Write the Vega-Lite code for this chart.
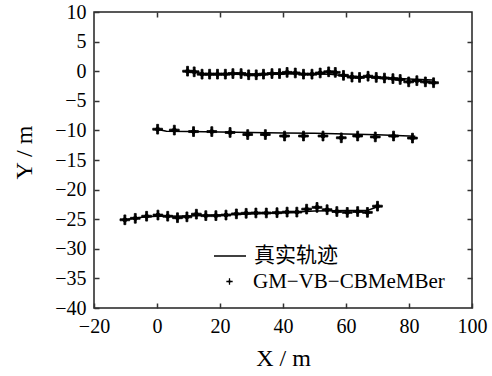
{
  "$schema": "https://vega.github.io/schema/vega-lite/v6.json",
  "width": 378,
  "height": 296,
  "autosize": "none",
  "padding": {"left": 94, "top": 12, "right": 20, "bottom": 68},
  "background": "white",
  "config": {
    "font": "Liberation Serif",
    "view": {"stroke": "#222", "strokeWidth": 1.5},
    "axis": {
      "grid": false,
      "domain": false,
      "tickColor": "#333",
      "tickWidth": 1.5,
      "tickSize": -5,
      "labelFlush": false,
      "labelFont": "Liberation Serif",
      "labelFontSize": 20,
      "labelColor": "black",
      "titleFont": "Liberation Serif",
      "titleFontSize": 24,
      "titleFontWeight": "normal",
      "titleColor": "black"
    },
    "legend": {
      "labelFont": "Liberation Serif, Noto Sans CJK SC",
      "labelFontSize": 21,
      "labelColor": "black",
      "labelLimit": 0,
      "padding": 0,
      "titlePadding": 0
    }
  },
  "datasets": {
    "truth": [
      {"track": "A", "x": 10, "y": 0.0},
      {"track": "A", "x": 12, "y": -0.2},
      {"track": "A", "x": 15, "y": -0.45},
      {"track": "A", "x": 30, "y": -0.55},
      {"track": "A", "x": 45, "y": -0.45},
      {"track": "A", "x": 55, "y": -0.5},
      {"track": "A", "x": 60, "y": -0.8},
      {"track": "A", "x": 70, "y": -1.05},
      {"track": "A", "x": 80, "y": -1.3},
      {"track": "A", "x": 87.5, "y": -1.5},
      {"track": "B", "x": 0, "y": -9.8},
      {"track": "B", "x": 3, "y": -10.15},
      {"track": "B", "x": 10, "y": -10.2},
      {"track": "B", "x": 20, "y": -10.25},
      {"track": "B", "x": 30, "y": -10.35},
      {"track": "B", "x": 40, "y": -10.45},
      {"track": "B", "x": 50, "y": -10.5},
      {"track": "B", "x": 60, "y": -10.6},
      {"track": "B", "x": 70, "y": -10.75},
      {"track": "B", "x": 82, "y": -11.0},
      {"track": "C", "x": -10, "y": -25.1},
      {"track": "C", "x": -7, "y": -24.8},
      {"track": "C", "x": -3, "y": -24.6},
      {"track": "C", "x": 0, "y": -24.5},
      {"track": "C", "x": 10, "y": -24.45},
      {"track": "C", "x": 20, "y": -24.3},
      {"track": "C", "x": 30, "y": -24.1},
      {"track": "C", "x": 40, "y": -23.9},
      {"track": "C", "x": 50, "y": -23.6},
      {"track": "C", "x": 60, "y": -23.55},
      {"track": "C", "x": 67, "y": -23.5},
      {"track": "C", "x": 70, "y": -22.9}
    ],
    "estimates": [
      {"track": "A", "x": 9.7, "y": 0.0},
      {"track": "A", "x": 11.8, "y": -0.1},
      {"track": "A", "x": 14.3, "y": -0.5},
      {"track": "A", "x": 16.7, "y": -0.5},
      {"track": "A", "x": 19.2, "y": -0.5},
      {"track": "A", "x": 21.7, "y": -0.5},
      {"track": "A", "x": 24.1, "y": -0.4},
      {"track": "A", "x": 26.7, "y": -0.4},
      {"track": "A", "x": 29.1, "y": -0.6},
      {"track": "A", "x": 31.5, "y": -0.6},
      {"track": "A", "x": 33.8, "y": -0.5},
      {"track": "A", "x": 36.5, "y": -0.4},
      {"track": "A", "x": 38.9, "y": -0.4},
      {"track": "A", "x": 41.3, "y": -0.2},
      {"track": "A", "x": 43.9, "y": -0.3},
      {"track": "A", "x": 46.5, "y": -0.5},
      {"track": "A", "x": 49.2, "y": -0.5},
      {"track": "A", "x": 51.8, "y": -0.3},
      {"track": "A", "x": 54.5, "y": -0.1},
      {"track": "A", "x": 56.6, "y": -0.2},
      {"track": "A", "x": 59.2, "y": -0.7},
      {"track": "A", "x": 61.9, "y": -1.0},
      {"track": "A", "x": 64.3, "y": -1.05},
      {"track": "A", "x": 67.0, "y": -0.85},
      {"track": "A", "x": 69.6, "y": -1.05},
      {"track": "A", "x": 72.2, "y": -1.15},
      {"track": "A", "x": 74.9, "y": -1.25},
      {"track": "A", "x": 77.2, "y": -1.4},
      {"track": "A", "x": 79.9, "y": -1.8},
      {"track": "A", "x": 82.5, "y": -1.6},
      {"track": "A", "x": 85.2, "y": -1.8},
      {"track": "A", "x": 87.8, "y": -1.95},
      {"track": "B", "x": 0.2, "y": -9.8},
      {"track": "B", "x": 5.5, "y": -9.95},
      {"track": "B", "x": 11.6, "y": -10.2},
      {"track": "B", "x": 17.4, "y": -10.2},
      {"track": "B", "x": 23.2, "y": -10.35},
      {"track": "B", "x": 28.8, "y": -10.7},
      {"track": "B", "x": 34.4, "y": -10.7},
      {"track": "B", "x": 40.5, "y": -10.95},
      {"track": "B", "x": 46.5, "y": -10.95},
      {"track": "B", "x": 52.7, "y": -10.95},
      {"track": "B", "x": 58.5, "y": -11.25},
      {"track": "B", "x": 63.7, "y": -10.95},
      {"track": "B", "x": 69.3, "y": -11.1},
      {"track": "B", "x": 75.1, "y": -10.95},
      {"track": "B", "x": 81.1, "y": -11.3},
      {"track": "C", "x": -10.2, "y": -25.1},
      {"track": "C", "x": -6.9, "y": -24.85},
      {"track": "C", "x": -3.3, "y": -24.5},
      {"track": "C", "x": 0.3, "y": -24.3},
      {"track": "C", "x": 3.4, "y": -24.5},
      {"track": "C", "x": 6.5, "y": -24.75},
      {"track": "C", "x": 9.5, "y": -24.6},
      {"track": "C", "x": 12.5, "y": -24.15},
      {"track": "C", "x": 15.5, "y": -24.4},
      {"track": "C", "x": 18.7, "y": -24.4},
      {"track": "C", "x": 21.9, "y": -24.3},
      {"track": "C", "x": 25.2, "y": -24.1},
      {"track": "C", "x": 28.3, "y": -24.0},
      {"track": "C", "x": 31.4, "y": -23.95},
      {"track": "C", "x": 34.7, "y": -23.95},
      {"track": "C", "x": 38.1, "y": -23.9},
      {"track": "C", "x": 41.3, "y": -23.8},
      {"track": "C", "x": 44.4, "y": -23.8},
      {"track": "C", "x": 47.5, "y": -23.3},
      {"track": "C", "x": 50.8, "y": -23.0},
      {"track": "C", "x": 54.0, "y": -23.4},
      {"track": "C", "x": 57.1, "y": -23.7},
      {"track": "C", "x": 60.4, "y": -23.85},
      {"track": "C", "x": 63.7, "y": -23.7},
      {"track": "C", "x": 66.8, "y": -23.85},
      {"track": "C", "x": 70.0, "y": -22.8}
    ]
  },
  "layer": [
    {
      "data": {"name": "truth"},
      "mark": {"type": "line", "color": "black", "strokeWidth": 1.5},
      "encoding": {
        "x": {
          "field": "x",
          "type": "quantitative",
          "scale": {"domain": [-20, 100], "nice": false, "zero": false},
          "axis": {
            "orient": "bottom",
            "values": [-20, 0, 20, 40, 60, 80, 100],
            "labelPadding": 13,
            "title": "X / m",
            "titlePadding": 10
          }
        },
        "y": {
          "field": "y",
          "type": "quantitative",
          "scale": {"domain": [-40, 10], "nice": false, "zero": false},
          "axis": {
            "orient": "left",
            "values": [-40, -35, -30, -25, -20, -15, -10, -5, 0, 5, 10],
            "labelPadding": 13,
            "title": "Y / m",
            "titlePadding": 18,
            "titleY": 140
          }
        },
        "detail": {"field": "track"},
        "color": {
          "datum": "真实轨迹",
          "scale": {"range": ["black"]},
          "legend": {
            "title": null,
            "orient": "none",
            "legendX": 119,
            "legendY": 227,
            "symbolType": "stroke",
            "symbolSize": 1024,
            "symbolStrokeWidth": 1.5,
            "labelOffset": 7
          }
        }
      }
    },
    {
      "data": {"name": "estimates"},
      "mark": {"type": "point", "filled": true, "color": "black", "stroke": "black", "strokeWidth": 0.8, "size": 95, "opacity": 1},
      "encoding": {
        "x": {
          "field": "x",
          "type": "quantitative",
          "axis": {"orient": "top", "values": [0, 20, 40, 60, 80], "labels": false, "title": null}
        },
        "y": {
          "field": "y",
          "type": "quantitative",
          "axis": {"orient": "right", "values": [-35, -30, -25, -20, -15, -10, -5, 0, 5], "labels": false, "title": null}
        },
        "shape": {
          "datum": "GM−VB−CBMeMBer",
          "scale": {"range": ["M-0.2,-1L0.2,-1L0.2,-0.2L1,-0.2L1,0.2L0.2,0.2L0.2,1L-0.2,1L-0.2,0.2L-1,0.2L-1,-0.2L-0.2,-0.2ZM0,-0.6L0.6,0L0,0.6L-0.6,0Z"]},
          "legend": {
            "title": null,
            "orient": "none",
            "legendX": 125,
            "legendY": 259,
            "symbolSize": 40,
            "symbolFillColor": "black",
            "symbolStrokeColor": "black",
            "symbolStrokeWidth": 0.7,
            "symbolOpacity": 1,
            "labelOffset": 13
          }
        }
      }
    }
  ],
  "resolve": {"axis": {"x": "independent", "y": "independent"}}
}
